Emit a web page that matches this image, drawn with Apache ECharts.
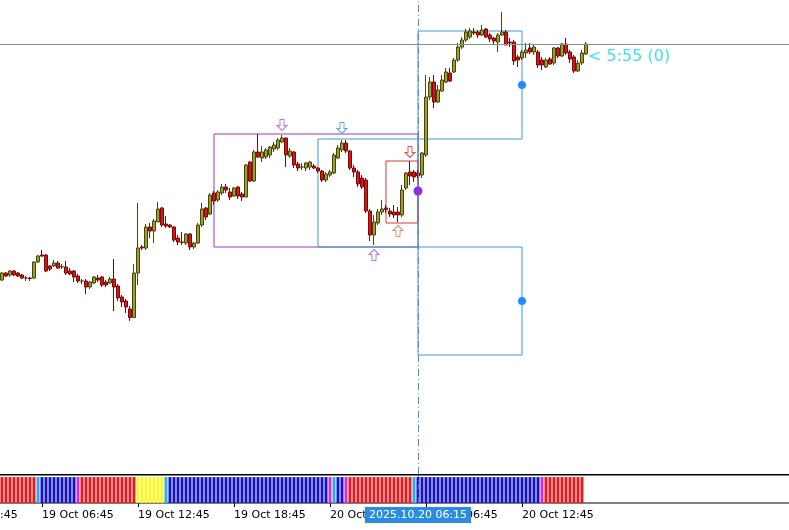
<!DOCTYPE html>
<html>
<head>
<meta charset="utf-8">
<script src="https://cdn.jsdelivr.net/npm/echarts@6/dist/echarts.min.js"></script>
<style>
html, body { margin: 0; padding: 0; background: #fff; }
#chart { width: 789px; height: 530px; }
</style>
</head>
<body>
<div id="chart"></div>
<script>
// M15 bars, first one on screen is 19 Oct 04:15
const firstCandle = "2025.10.19 04:15";

const opens = [
    220, 227, 225, 229, 227, 225, 222, 222, 222, 238,
    245, 245, 234, 234, 237, 233, 233, 229, 229, 224,
    219, 219, 213, 217, 222, 223, 218, 217, 221, 214,
    203, 199, 191, 182.5, 227, 253, 252, 273, 269, 278,
    292, 276, 275, 273, 262, 258, 257, 266, 253, 257,
    275, 292, 286, 307, 300, 307, 313, 308, 304, 313,
    306, 303, 338, 319, 348, 342, 343, 345, 351, 352,
    358, 362, 344, 348, 336, 333, 332, 333, 334, 332,
    329, 320, 325, 327, 342, 350, 357, 349, 332, 328,
    322, 320, 289, 265, 277, 288, 292, 289, 288, 288,
    285, 312, 328, 328, 327, 325, 345, 403, 418, 398,
    409, 418, 427, 428, 440, 453, 460, 463, 468, 468,
    465, 471, 465, 462, 458, 465, 468, 458, 458, 443,
    442, 447, 452, 448, 448, 440, 433, 441, 437, 452,
    444, 456, 448, 443, 429, 437, 446
];
const closes = [
    227, 224, 229, 225, 224, 222, 222, 221.5, 238, 244,
    244, 229, 231, 237, 232, 233.3, 227, 226, 223, 219,
    219, 213, 218, 223, 220, 215, 215, 221, 213, 202,
    198, 193, 182.5, 227, 252, 252, 273, 269, 279, 291,
    275, 274, 273, 260, 258, 257.7, 266, 253, 257, 275,
    291, 283, 305, 299, 308, 313, 310, 303, 312, 304,
    303, 335, 319, 348, 343, 348, 350, 353, 355, 360,
    362, 345, 349, 335, 332, 333, 337, 338, 332, 329,
    320, 326, 328, 345, 352, 357, 349, 332, 328, 316,
    313, 289, 265, 278, 288, 291, 290.5, 286, 285, 285,
    310, 327, 324, 323, 324, 347, 403, 418, 398, 410,
    420, 428, 419, 440, 453, 460, 468, 469, 467, 465,
    470, 463, 461, 459, 465, 468, 455, 457, 439, 440,
    448, 450, 448, 453, 435, 435, 440, 436, 452, 444,
    456, 447, 441, 429, 437, 447, 456
];
const lows = [
    219, 223, 223, 224, 223, 221, 219, 219, 221, 237,
    243, 228, 229, 233, 231, 231, 225, 225, 218, 217,
    216, 206, 211, 216, 218, 213, 213, 216, 189, 199,
    193, 187, 179, 182, 215, 250, 250, 262, 257, 278,
    273, 272, 272, 258, 255, 255, 255, 250, 251, 256,
    273, 280, 285, 295, 298, 305, 307, 300, 303, 301,
    299, 303, 318, 318, 342, 338, 341, 342, 348, 350,
    357, 333, 342, 332, 329, 330, 329, 330, 331, 327,
    318, 318, 323, 326, 341, 348, 347, 330, 323, 313,
    311, 287, 259, 255, 275, 285, 287, 283, 282, 278,
    283, 310, 315, 318, 322, 322, 343, 400, 392, 397,
    408, 417, 418, 427, 438, 451, 458, 461, 465, 462,
    464, 462, 458, 455, 448, 464, 455, 453, 435, 433,
    440, 442, 446, 445, 432, 430, 432, 435, 435, 442,
    443, 445, 437, 427, 428, 435, 445
];
const highs = [
    228, 228, 230, 230, 228, 226, 224, 223, 238.5, 245,
    250, 246, 235, 240, 239, 236, 239, 232, 230, 226,
    221, 221, 219, 224, 225, 224, 220, 223, 241, 216,
    205, 201, 194, 236, 297, 255, 276, 277, 281, 298,
    293, 284, 276, 274, 265, 268, 267, 267, 258, 277,
    297, 293, 307, 309, 310, 316, 316, 312, 313, 314,
    308, 336, 339, 350, 366, 354, 352, 354, 358, 362,
    365, 362.5, 352, 349, 338, 337, 338, 339, 336, 333,
    330, 328, 330, 347, 355, 360, 360, 350, 335, 330,
    325, 322, 291, 285, 291, 300, 295, 292, 295, 293,
    315, 328, 339, 330, 330, 348, 425, 423, 425, 415,
    425, 432, 432, 442, 457, 463, 471, 472, 472, 470,
    475, 472, 467, 463, 467, 488, 470, 462, 460, 445,
    450, 457, 457, 455, 450, 443, 442, 443, 453, 453,
    457, 462, 450, 445, 440, 450, 458
];

// trend histogram under the chart, one code per bar (R red, B blue, L light blue, M magenta, Y yellow)
const trendState = [
    "R", "R", "R", "R", "R", "R", "R", "R", "R", "L",
    "B", "B", "B", "B", "B", "B", "B", "B", "B", "M",
    "R", "R", "R", "R", "R", "R", "R", "R", "R", "R",
    "R", "R", "R", "R", "Y", "Y", "Y", "Y", "Y", "Y",
    "Y", "L", "B", "B", "B", "B", "B", "B", "B", "B",
    "B", "B", "B", "B", "B", "B", "B", "B", "B", "B",
    "B", "B", "B", "B", "B", "B", "B", "B", "B", "B",
    "B", "B", "B", "B", "B", "B", "B", "B", "B", "B",
    "B", "B", "M", "L", "B", "B", "M", "R", "R", "R",
    "R", "R", "R", "R", "R", "R", "R", "R", "R", "R",
    "R", "R", "R", "L", "B", "B", "B", "B", "B", "B",
    "B", "B", "B", "B", "B", "B", "B", "B", "B", "B",
    "B", "B", "B", "B", "B", "B", "B", "B", "B", "B",
    "B", "B", "B", "B", "B", "M", "R", "R", "R", "R",
    "R", "R", "R", "R", "R", "R"
];

// zones drawn on the chart: [first bar, last bar, low price, high price]
const purpleZone = [53, 104, 253, 366];
const blueZone = [79, 104, 253, 361];
const redZone = [96, 104, 277, 339];
const upperTarget = [104, 130, 361, 469];
const lowerTarget = [104, 130, 145, 253];

// markers: [bar, price]
const targetDots = [[130, 415], [130, 199]];
const entryDot = [104, 309];
const purpleDownArrow = [70, 375];
const blueDownArrow = [85, 372];
const redDownArrow = [102, 348];
const purpleUpArrow = [93, 245];
const redUpArrow = [99, 269];

const bidPrice = 456;
const crossBar = 104;
const timerText = "< 5:55 (0)";

const months = ["Jan", "Feb", "Mar", "Apr", "May", "Jun", "Jul", "Aug", "Sep", "Oct", "Nov", "Dec"];
const pad = (n) => String(n).padStart(2, "0");
const fmt = (d) => d.getUTCFullYear() + "." + pad(d.getUTCMonth() + 1) + "." + pad(d.getUTCDate()) +
    " " + pad(d.getUTCHours()) + ":" + pad(d.getUTCMinutes());

// time axis, 15 minute slots, starts a few bars left of the screen
const axisStart = Date.UTC(2025, 9, 19, 0, 45);
const categories = [];
for (let k = 0; k < 212; k++) {
    categories.push(fmt(new Date(axisStart + k * 15 * 60000)));
}
const offset = categories.indexOf(firstCandle);
const lastBar = offset + opens.length - 1;
const cat = (i) => categories[offset + i];

const candleData = categories.map((c, k) => {
    const i = k - offset;
    if (i < 0 || i >= opens.length) return ["-", "-", "-", "-"];
    return [opens[i], closes[i], lows[i], highs[i]];
});

const stateColors = { R: "#e61b1e", B: "#1414c4", L: "#34a8f2", M: "#d52ccc", Y: "#fafa22" };
const trendData = categories.map((c, k) => {
    const s = trendState[k - offset];
    if (!s) return "-";
    return { value: 1, itemStyle: { color: stateColors[s] } };
});

const zoneBox = (z, color) => [
    { xAxis: cat(z[0]), yAxis: z[3], itemStyle: { color: "rgba(0,0,0,0)", borderColor: color, borderWidth: 1 } },
    { xAxis: cat(z[1]), yAxis: z[2] }
];

const downPath = "path://M3,0 L7,0 L7,6 L10,6 L5,11 L0,6 L3,6 Z";
const upPath = "path://M5,0 L10,5 L7,5 L7,11 L3,11 L3,5 L0,5 Z";
const arrow = (a, path, color) => ({
    coord: [cat(a[0]), a[1]],
    symbol: path,
    symbolSize: [10, 11],
    itemStyle: { color: "#fff", borderColor: color, borderWidth: 1 }
});
const dot = (d, color, size) => ({
    coord: [cat(d[0]), d[1]],
    symbol: "circle",
    symbolSize: size,
    itemStyle: { color: color }
});

const font = "DejaVu Sans";
const chart = echarts.init(document.getElementById("chart"));

const option = {
    animation: false,
    backgroundColor: "#fff",
    grid: [
        { left: -56, width: 848, top: 0, height: 474, outerBoundsMode: "none", containLabel: false },
        {
            left: -56, width: 848, top: 475, height: 28, outerBoundsMode: "none", containLabel: false,
            show: true, borderColor: "#000", borderWidth: 1
        }
    ],
    xAxis: [
        {
            type: "category",
            gridIndex: 0,
            data: categories,
            axisLine: { show: true, lineStyle: { color: "#000", width: 1 } },
            axisTick: { show: false },
            axisLabel: { show: false },
            splitLine: { show: false }
        },
        {
            type: "category",
            gridIndex: 1,
            data: categories,
            axisLine: { show: false },
            axisTick: {
                show: true,
                alignWithLabel: true,
                length: 4,
                interval: (idx) => idx % 24 === 0 && idx <= lastBar,
                lineStyle: { color: "#000" }
            },
            axisLabel: {
                show: true,
                interval: (idx) => idx % 24 === 0 && idx <= lastBar,
                align: "left",
                margin: 7,
                color: "#000",
                fontFamily: font,
                fontSize: 11,
                formatter: (v) => v.slice(8, 10) + " " + months[+v.slice(5, 7) - 1] + " " + v.slice(11)
            },
            splitLine: { show: false },
            axisPointer: {
                show: true,
                status: "show",
                value: offset + crossBar,
                type: "line",
                triggerTooltip: false,
                lineStyle: { color: "#3b7fb8", width: 1, type: [6, 3, 1, 3] },
                label: {
                    show: true,
                    formatter: () => cat(crossBar),
                    backgroundColor: "#2b8be0",
                    color: "#fff",
                    fontFamily: font,
                    fontSize: 11,
                    padding: [3, 4, 2, 4],
                    margin: 4,
                    borderRadius: 0
                }
            }
        }
    ],
    yAxis: [
        { type: "value", gridIndex: 0, min: 26, max: 500, show: false, splitLine: { show: false } },
        { type: "value", gridIndex: 1, min: 0, max: 1.08, show: false, splitLine: { show: false } }
    ],
    series: [
        {
            name: "price",
            type: "candlestick",
            xAxisIndex: 0,
            yAxisIndex: 0,
            data: candleData,
            barWidth: 3,
            itemStyle: {
                color: "#9aa02c",
                color0: "#d41818",
                borderColor: "#4b4310",
                borderColor0: "#7a0a0a",
                borderWidth: 1
            },
            markLine: {
                silent: true,
                symbol: ["none", "none"],
                label: { show: false },
                data: [
                    { yAxis: bidPrice, lineStyle: { color: "#8c8c8c", width: 1, type: "solid" } },
                    { xAxis: cat(crossBar), lineStyle: { color: "#4a8cc4", width: 1, type: [7, 3, 1, 3] } }
                ]
            },
            markArea: {
                silent: true,
                label: { show: false },
                data: [
                    zoneBox(purpleZone, "#a633c8"),
                    zoneBox(blueZone, "#3a9ad2"),
                    zoneBox(redZone, "#d43a3a"),
                    zoneBox(upperTarget, "#3a9ad2"),
                    zoneBox(lowerTarget, "#3a9ad2")
                ]
            },
            markPoint: {
                silent: true,
                label: { show: false },
                data: [
                    arrow(purpleDownArrow, downPath, "#c070e6"),
                    arrow(blueDownArrow, downPath, "#5aa6e4"),
                    arrow(redDownArrow, downPath, "#e05050"),
                    arrow(purpleUpArrow, upPath, "#c070e6"),
                    arrow(redUpArrow, upPath, "#ee8a72"),
                    dot(targetDots[0], "#1e8cff", 8),
                    dot(targetDots[1], "#1e8cff", 8),
                    dot(entryDot, "#8e2fe0", 9),
                    {
                        coord: [cat(opens.length - 1), bidPrice],
                        symbol: "circle",
                        symbolSize: 0,
                        label: {
                            show: true,
                            position: "right",
                            distance: 2,
                            offset: [0, 13],
                            formatter: timerText,
                            color: "#3ee2ee",
                            fontFamily: font,
                            fontSize: 16
                        }
                    }
                ]
            }
        },
        {
            name: "trend",
            type: "bar",
            xAxisIndex: 1,
            yAxisIndex: 1,
            data: trendData,
            barWidth: 3
        }
    ]
};

chart.setOption(option);
</script>
</body>
</html>
